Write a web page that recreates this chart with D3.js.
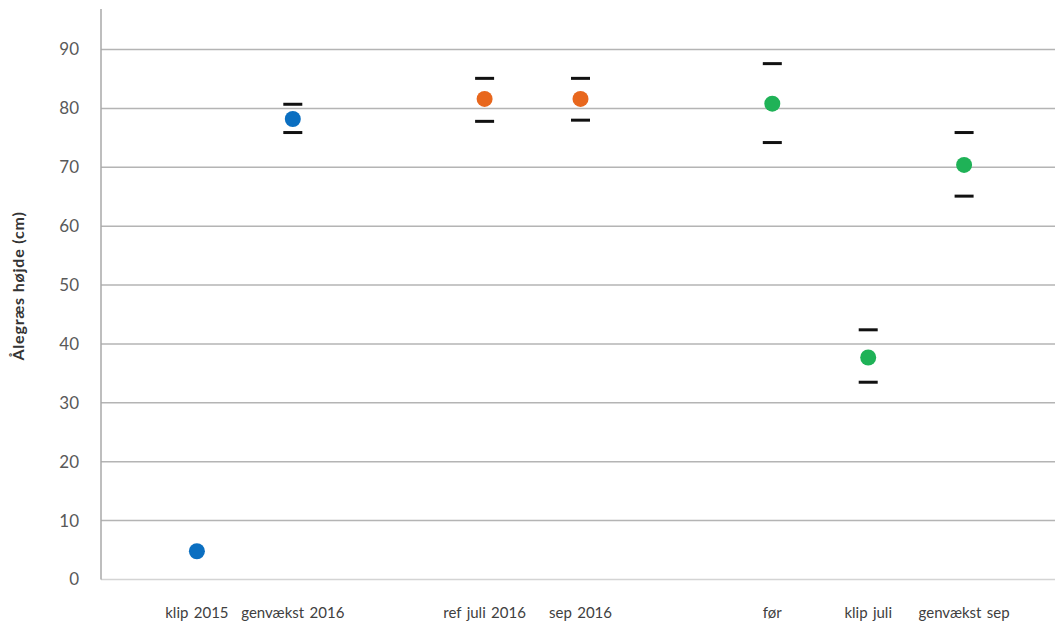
<!DOCTYPE html>
<html>
<head>
<meta charset="utf-8">
<script src="https://cdn.jsdelivr.net/npm/d3@7"></script>
<style>
  body { margin: 0; background: #fff; }
  svg { font-family: Lato, "Open Sans", sans-serif; }
</style>
</head>
<body>
<svg id="chart" width="1055" height="630"></svg>
<script>
// slots along the x axis, "" = empty gap
var slots = ["", "klip 2015", "genvækst 2016", "", "ref juli 2016", "sep 2016", "", "før", "klip juli", "genvækst sep", ""];

var categories = ["klip 2015", "genvækst 2016", "ref juli 2016", "sep 2016", "før", "klip juli", "genvækst sep"];
var means = [4.8, 78.2, 81.6, 81.6, 80.8, 37.7, 70.4];
var upper = [null, 80.7, 85.1, 85.1, 87.6, 42.4, 75.9];
var lower = [null, 75.9, 77.8, 78.0, 74.2, 33.5, 65.1];
var groups = ["a", "a", "b", "b", "c", "c", "c"];

var yTicks = [0, 10, 20, 30, 40, 50, 60, 70, 80, 90];
var yTitle = "Ålegræs højde (cm)";

var colors = { a: "#0b6fc1", b: "#e8671d", c: "#1fb257" };

var svg = d3.select("#chart"),
    width = +svg.attr("width"),
    height = +svg.attr("height");

var x = d3.scalePoint()
  .domain(d3.range(slots.length))
  .range([101, 1060]);

var y = d3.scaleLinear()
  .domain([0, 90])
  .range([579.5, 49.5]);

function xOf(name) {
  return x(slots.indexOf(name));
}

// gridlines
svg.append("g")
  .selectAll("line")
  .data(yTicks)
  .enter().append("line")
  .attr("x1", 101)
  .attr("x2", width)
  .attr("y1", function(d) { return y(d); })
  .attr("y2", function(d) { return y(d); })
  .style("stroke", function(d) { return d == 0 ? "#d4d4d4" : "#b4b4b4"; })
  .style("stroke-width", 1.5);

// y axis line
svg.append("line")
  .attr("x1", 101).attr("x2", 101)
  .attr("y1", 9).attr("y2", y(0))
  .style("stroke", "#a8a8a8")
  .style("stroke-width", 1.5);

// y tick labels
var yAxis = svg.append("g")
  .attr("transform", "translate(101,0)")
  .call(d3.axisLeft(y).tickValues(yTicks).tickSize(0).tickPadding(22));
yAxis.select(".domain").remove();
yAxis.selectAll("text")
  .style("font-family", "Lato, sans-serif")
  .style("font-size", "17px")
  .style("fill", "#595959");

svg.append("text")
  .attr("transform", "translate(24," + 286 + ") rotate(-90)")
  .attr("text-anchor", "middle")
  .style("font-size", "16px")
  .style("font-weight", "bold")
  .style("letter-spacing", "0.8px")
  .style("fill", "#333")
  .text(yTitle);

// x labels
svg.append("g")
  .selectAll("text")
  .data(categories)
  .enter().append("text")
  .attr("x", function(d) { return xOf(d); })
  .attr("y", 618)
  .attr("text-anchor", "middle")
  .style("font-size", "15px")
  .style("word-spacing", "1.5px")
  .style("fill", "#404040")
  .text(function(d) { return d; });

// error caps
var caps = [];
categories.forEach(function(c, i) {
  if (upper[i] != null) caps.push({ c: c, v: upper[i] });
  if (lower[i] != null) caps.push({ c: c, v: lower[i] });
});

svg.append("g")
  .selectAll("line")
  .data(caps)
  .enter().append("line")
  .attr("x1", function(d) { return xOf(d.c) - 9.5; })
  .attr("x2", function(d) { return xOf(d.c) + 9.5; })
  .attr("y1", function(d) { return y(d.v); })
  .attr("y2", function(d) { return y(d.v); })
  .style("stroke", "#111")
  .style("stroke-width", 3);

// points
svg.append("g")
  .selectAll("circle")
  .data(categories)
  .enter().append("circle")
  .attr("cx", function(d) { return xOf(d); })
  .attr("cy", function(d, i) { return y(means[i]); })
  .attr("r", 8)
  .style("fill", function(d, i) { return colors[groups[i]]; });
</script>
</body>
</html>
